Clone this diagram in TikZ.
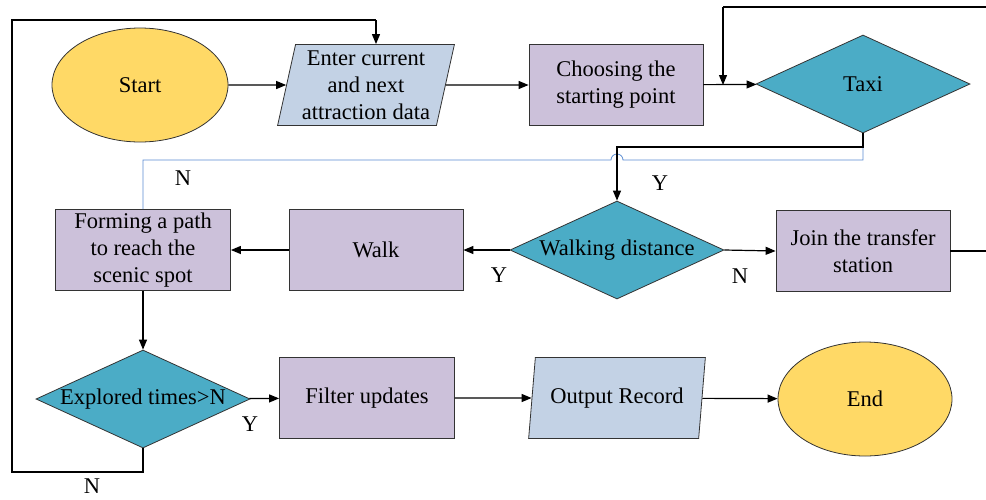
\documentclass[tikz,border=0pt]{standalone}
\usepackage{fontspec}
\setmainfont{Liberation Serif}
\usetikzlibrary{shapes.geometric,arrows.meta}
\definecolor{startyellow}{RGB}{255,217,102}
\definecolor{iogray}{RGB}{195,210,229}
\definecolor{proclav}{RGB}{204,193,218}
\definecolor{decteal}{RGB}{75,172,198}
\definecolor{skipblue}{RGB}{91,140,210}
\newcommand{\flatlabel}[1]{\makebox[0pt]{#1}}
\tikzset{
  base/.style={draw=black!80, line width=0.8pt, align=center, inner sep=2pt,
    font=\fontsize{22.5}{27}\selectfont},
  terminal/.style={base, ellipse, fill=startyellow, minimum width=176pt, minimum height=114pt},
  iobox/.style={base, trapezium, trapezium left angle=77, trapezium right angle=103,
    trapezium stretches=true, fill=iogray, minimum width=177pt, minimum height=81pt},
  procbox/.style={base, rectangle, fill=proclav, minimum width=174pt, minimum height=81pt},
  decision/.style={base, diamond, fill=decteal, minimum width=214pt, minimum height=98pt, inner sep=0pt},
  flow/.style={line width=1.2pt, -{Triangle[length=10pt,width=8pt]}},
  plain/.style={line width=1.2pt},
  lbl/.style={font=\fontsize{22.5}{24}\selectfont}
}
\begin{document}
\begin{tikzpicture}[x=1pt,y=-1pt]
\useasboundingbox (0,0) rectangle (986,499);

% first row
\node[terminal] (start) at (140,85) {Start};
\node[iobox] (enter) at (366,85) {Enter current\\and next\\attraction data};
\node[procbox] (choose) at (616,85) {Choosing the\\starting point};
\node[decision] (taxi) at (863,84) {\flatlabel{Taxi}};

% second row
\node[procbox, minimum width=175pt] (form) at (143,250) {Forming a path\\to reach the\\scenic spot};
\node[procbox] (walk) at (376,250) {Walk};
\node[decision] (walkd) at (617,250) {\flatlabel{Walking distance}};
\node[procbox] (join) at (863,251) {Join the transfer\\station};

% third row
\node[decision] (explored) at (143,399) {\flatlabel{Explored times>N}};
\node[procbox, minimum width=175pt] (filter) at (367,398) {Filter updates};
\node[iobox] (output) at (617,398) {Output Record};
\node[terminal, minimum width=174pt] (end) at (865,399) {End};

% helper points
\coordinate (loopin) at (723,85);

% main flow
\draw[flow] (start) -- (enter);
\draw[flow] (enter) -- (choose);
\draw[flow] (choose) -- (taxi);

% taxi: N branch (thin blue, hopping over the Y branch)
\draw[skipblue, line width=0.8pt] (taxi.south) -- (863,160) -- (623,160)
  arc[start angle=0, end angle=180, radius=6pt] -- (143,160) -- (form.north);
% taxi: Y branch
\draw[flow] (taxi.south) -- (863,147) -- (617,147) -- (walkd.north);

\draw[flow] (walkd) -- (walk);
\draw[flow] (walk) -- (form);
\draw[flow] (walkd.east) -- (join.west);
\draw[flow] (form) -- (explored);
\draw[flow] (explored) -- (filter);
\draw[flow] (filter) -- (output);
\draw[flow] (output) -- (end);

% transfer station loops back to the taxi decision
\draw[plain] (join.east) -- (1000,251) -- (1000,7) -- (723,7);
\draw[flow] (723,7) -- (loopin);

% unexplored spots restart the search
\draw[plain] (explored.south) -- (143,472) -- (12,472) -- (12,20) -- (376,20);
\draw[flow] (376,20) -- (enter.north -| 376,0);

% branch labels
\node[lbl] (n1) at (183,178) {N};
\node[lbl] (y1) at (660,183) {Y};
\node[lbl] (y2) at (499,275) {Y};
\node[lbl] (n2) at (740,276) {N};
\node[lbl] (y3) at (250,424) {Y};
\node[lbl] (n3) at (92,486) {N};
\end{tikzpicture}
\end{document}
